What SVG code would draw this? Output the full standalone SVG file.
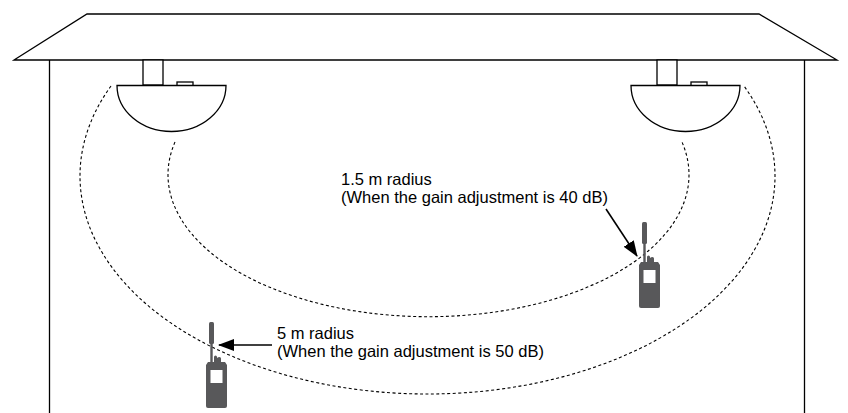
<svg xmlns="http://www.w3.org/2000/svg" width="848" height="413" viewBox="0 0 848 413">
  <style>
    .line { fill: none; stroke: #000; stroke-width: 1.3; }
    .solid { fill: #fff; stroke: #000; stroke-width: 1.3; }
    .range { fill: none; stroke: #000; stroke-width: 1.1; stroke-dasharray: 3 2.5; }
    .arrow { fill: none; stroke: #000; stroke-width: 1.6; marker-end: url(#head); }
    .label { font-family: "Liberation Sans", Arial, sans-serif; font-size: 16.5px; fill: #000; }
    .set { fill: #58585a; }
  </style>
  <defs>
    <marker id="head" markerWidth="16" markerHeight="12" refX="15" refY="6" orient="auto" markerUnits="userSpaceOnUse">
      <path d="M0,0 L16,6 L0,12 Z" fill="#000"/>
    </marker>
    <!-- handheld transceiver, origin at body top-left -->
    <g id="radio">
      <rect class="set" x="3" y="-40" width="5" height="22" rx="1.5"/>
      <rect class="set" x="4.3" y="-20" width="2.4" height="21"/>
      <path class="set" d="M8,0 V-5 Q8,-6.5 9.5,-6.5 Q11,-6.5 11,-5 V-4 Q12,-5 13.5,-5 Q15,-5 15,-3.5 V0 Z"/>
      <path class="set" d="M2,0 H19 L21,3 V44 Q21,46 19,46 H2 Q0,46 0,44 V3 Z"/>
      <rect x="4.5" y="8" width="12" height="13" fill="#fff"/>
    </g>
  </defs>

  <!-- building: roof and walls -->
  <g id="building">
    <polygon class="solid" points="14,60 87,14 759,14 837,60"/>
    <line class="line" x1="49.5" y1="60" x2="49.5" y2="413"/>
    <line class="line" x1="804.5" y1="60" x2="804.5" y2="413"/>
  </g>

  <!-- ceiling speakers -->
  <g id="speaker-left">
    <rect class="solid" x="143" y="60" width="20" height="25"/>
    <rect class="solid" x="177" y="82" width="16" height="4"/>
    <path class="solid" d="M117,85.5 H226 A54.5,46 0 0 1 117,85.5 Z"/>
  </g>
  <g id="speaker-right">
    <rect class="solid" x="657" y="60" width="20" height="25"/>
    <rect class="solid" x="691" y="82" width="16" height="4"/>
    <path class="solid" d="M631,85.5 H740 A54.5,46 0 0 1 631,85.5 Z"/>
  </g>

  <!-- pickup ranges -->
  <g id="ranges">
    <path id="range-outer" class="range" d="M111,86 A347.5,218 0 1 0 744,86"/>
    <path id="range-inner" class="range" d="M175,142 A260.5,142 0 1 0 682,142"/>
  </g>

  <!-- transceivers -->
  <g id="radio-near">
    <use href="#radio" x="639" y="262"/>
  </g>
  <g id="radio-far">
    <use href="#radio" x="206" y="362"/>
  </g>

  <!-- callouts -->
  <g id="connectors">
    <line class="arrow" x1="606" y1="209" x2="637" y2="256"/>
    <line class="arrow" x1="272" y1="345" x2="219" y2="345"/>
  </g>

  <g id="label-inner">
    <text class="label" x="341" y="185">1.5 m radius</text>
    <text class="label" x="341" y="203">(When the gain adjustment is 40 dB)</text>
  </g>
  <g id="label-outer">
    <text class="label" x="277" y="339">5 m radius</text>
    <text class="label" x="277" y="357">(When the gain adjustment is 50 dB)</text>
  </g>
</svg>
